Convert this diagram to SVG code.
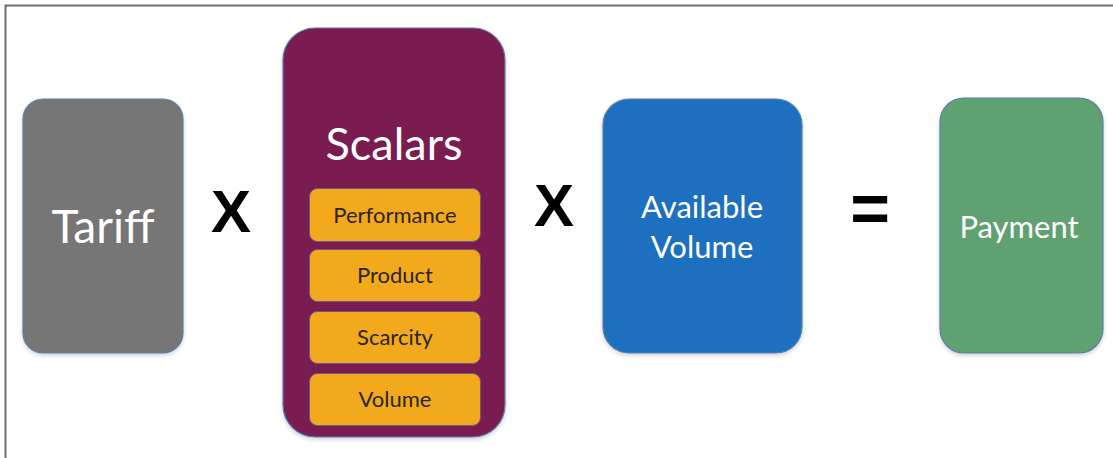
<svg xmlns="http://www.w3.org/2000/svg" width="1113" height="458" viewBox="0 0 1113 458">
  <style>
    .box { stroke: #5b7fb0; stroke-width: 1.2; filter: url(#shadow); }
    .label { font-family: Lato, "Open Sans", "Liberation Sans", sans-serif; fill: #ffffff; text-anchor: middle; }
    .item { fill: #f3a91c; stroke: #6a5a8a; stroke-width: 1; }
    .item-text { font-family: Lato, "Open Sans", "Liberation Sans", sans-serif; font-size: 22px; fill: #2a2620; text-anchor: middle; }
    .op { font-family: "Liberation Sans", Arial, sans-serif; fill: #000000; text-anchor: middle; font-weight: bold; }
  </style>
  <defs>
    <filter id="shadow" x="-10%" y="-10%" width="120%" height="120%">
      <feDropShadow dx="0" dy="2" stdDeviation="2" flood-color="#000000" flood-opacity="0.18"/>
    </filter>
  </defs>

  <rect x="0" y="0" width="1113" height="458" fill="#ffffff"/>
  <!-- frame -->
  <path d="M5.5 458 V5.5 H1113" fill="none" stroke="#6e6e6e" stroke-width="2"/>

  <g id="tariff">
    <rect class="box" x="23" y="99" width="160" height="254" rx="20" fill="#767676"/>
    <text class="label" x="103" y="243" font-size="46">Tariff</text>
  </g>

  <g id="scalars">
    <rect class="box" x="283" y="28" width="222" height="409" rx="32" fill="#7a1a4f"/>
    <text class="label" x="394" y="160" font-size="45">Scalars</text>
    <g id="scalar-performance">
      <rect class="item" x="309.5" y="188.5" width="171" height="53" rx="8"/>
      <text class="item-text" x="395" y="223">Performance</text>
    </g>
    <g id="scalar-product">
      <rect class="item" x="309.5" y="249.5" width="171" height="52" rx="8"/>
      <text class="item-text" x="395" y="283">Product</text>
    </g>
    <g id="scalar-scarcity">
      <rect class="item" x="309.5" y="311.5" width="171" height="52" rx="8"/>
      <text class="item-text" x="395" y="345">Scarcity</text>
    </g>
    <g id="scalar-volume">
      <rect class="item" x="309.5" y="373.5" width="171" height="52" rx="8"/>
      <text class="item-text" x="395" y="407">Volume</text>
    </g>
  </g>

  <g id="available-volume">
    <rect class="box" x="603" y="99" width="199" height="254" rx="26" fill="#1d6fbf"/>
    <text class="label" x="702" y="218" font-size="31">Available</text>
    <text class="label" x="702" y="258" font-size="31">Volume</text>
  </g>

  <g id="payment">
    <rect class="box" x="940" y="98" width="163" height="255" rx="24" fill="#5fa16f"/>
    <text class="label" x="1019" y="238" font-size="31">Payment</text>
  </g>

  <!-- operators between the terms -->
  <g id="connectors">
    <text class="op" x="231" y="232" font-size="60">X</text>
    <text class="op" x="554" y="226" font-size="60">X</text>
    <text class="op" x="870" y="232" font-size="68">=</text>
  </g>
</svg>
